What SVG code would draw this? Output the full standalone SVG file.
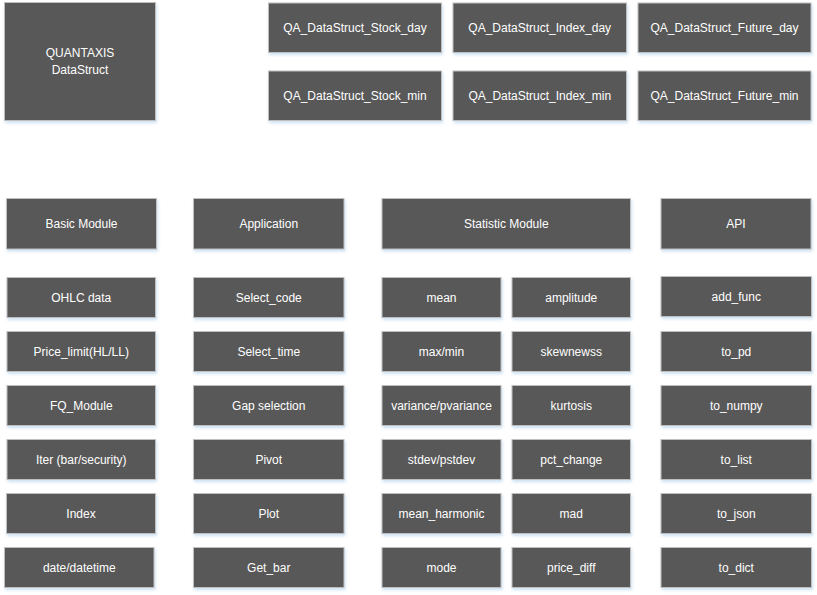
<svg xmlns="http://www.w3.org/2000/svg" width="817" height="595" viewBox="0 0 817 595">
<defs>
<filter id="sh" x="-10%" y="-20%" width="120%" height="150%">
<feDropShadow dx="1" dy="2" stdDeviation="1.5" flood-color="#9dc3e6" flood-opacity="0.5"/>
</filter>
</defs>
<style>
.n rect{fill:#595959;stroke:#bfbfbf;stroke-width:1;filter:url(#sh)}
.n text{fill:#ffffff;font-family:"Liberation Sans",Arial,sans-serif;font-size:12px;text-anchor:middle;dominant-baseline:central}
</style>
<rect width="817" height="595" fill="#ffffff"/>
<g id="connectors"></g>
<g id="quantaxis" class="n"><rect x="4.5" y="2.5" width="151" height="118"/><text x="80" y="53">QUANTAXIS</text><text x="80" y="70">DataStruct</text></g>
<g id="stock_day" class="n"><rect x="268.5" y="3" width="173" height="49.5"/><text x="355" y="28">QA_DataStruct_Stock_day</text></g>
<g id="index_day" class="n"><rect x="453" y="3" width="173.5" height="49.5"/><text x="539.75" y="28">QA_DataStruct_Index_day</text></g>
<g id="future_day" class="n"><rect x="638" y="3" width="173" height="49.5"/><text x="724.5" y="28">QA_DataStruct_Future_day</text></g>
<g id="stock_min" class="n"><rect x="268.5" y="71" width="173" height="49.5"/><text x="355" y="96">QA_DataStruct_Stock_min</text></g>
<g id="index_min" class="n"><rect x="453" y="71" width="173.5" height="49.5"/><text x="539.75" y="96">QA_DataStruct_Index_min</text></g>
<g id="future_min" class="n"><rect x="638" y="71" width="173" height="49.5"/><text x="724.5" y="96">QA_DataStruct_Future_min</text></g>

<g id="basic_module" class="n"><rect x="6.5" y="198.5" width="150" height="50.5"/><text x="81.5" y="224">Basic Module</text></g>
<g id="application" class="n"><rect x="193.5" y="198.5" width="150.5" height="50.5"/><text x="268.75" y="224">Application</text></g>
<g id="statistic_module" class="n"><rect x="382" y="198.5" width="248.5" height="50.5"/><text x="506.25" y="224">Statistic Module</text></g>
<g id="api" class="n"><rect x="661" y="198.5" width="150" height="50.5"/><text x="736" y="224">API</text></g>

<g id="ohlc" class="n"><rect x="7" y="277.5" width="148.5" height="40"/><text x="81.25" y="297.5">OHLC data</text></g>
<g id="price_limit" class="n"><rect x="7" y="331.5" width="148.5" height="40"/><text x="81.25" y="351.5">Price_limit(HL/LL)</text></g>
<g id="fq_module" class="n"><rect x="7" y="385.5" width="148.5" height="40"/><text x="81.25" y="405.5">FQ_Module</text></g>
<g id="iter" class="n"><rect x="7" y="439.5" width="148.5" height="40"/><text x="81.25" y="459.5">Iter (bar/security)</text></g>
<g id="index" class="n"><rect x="6.5" y="493.5" width="149" height="40"/><text x="81" y="513.5">Index</text></g>
<g id="datetime" class="n"><rect x="4.5" y="547.5" width="149.5" height="40"/><text x="79.25" y="567.5">date/datetime</text></g>

<g id="select_code" class="n"><rect x="193.5" y="277.5" width="150.5" height="40"/><text x="268.75" y="297.5">Select_code</text></g>
<g id="select_time" class="n"><rect x="193.5" y="331.5" width="150.5" height="40"/><text x="268.75" y="351.5">Select_time</text></g>
<g id="gap_selection" class="n"><rect x="193.5" y="385.5" width="150.5" height="40"/><text x="268.75" y="405.5">Gap selection</text></g>
<g id="pivot" class="n"><rect x="193.5" y="439.5" width="150.5" height="40"/><text x="268.75" y="459.5">Pivot</text></g>
<g id="plot" class="n"><rect x="193.5" y="493.5" width="150.5" height="40"/><text x="268.75" y="513.5">Plot</text></g>
<g id="get_bar" class="n"><rect x="193.5" y="547.5" width="150.5" height="40"/><text x="268.75" y="567.5">Get_bar</text></g>

<g id="mean" class="n"><rect x="382" y="277.5" width="119" height="40"/><text x="441.5" y="297.5">mean</text></g>
<g id="maxmin" class="n"><rect x="382" y="331.5" width="119" height="40"/><text x="441.5" y="351.5">max/min</text></g>
<g id="variance" class="n"><rect x="382" y="385.5" width="119" height="40"/><text x="441.5" y="405.5">variance/pvariance</text></g>
<g id="stdev" class="n"><rect x="382" y="439.5" width="119" height="40"/><text x="441.5" y="459.5">stdev/pstdev</text></g>
<g id="mean_harmonic" class="n"><rect x="382" y="493.5" width="119" height="40"/><text x="441.5" y="513.5">mean_harmonic</text></g>
<g id="mode" class="n"><rect x="382" y="547.5" width="119" height="40"/><text x="441.5" y="567.5">mode</text></g>

<g id="amplitude" class="n"><rect x="512" y="277.5" width="118.5" height="40"/><text x="571.25" y="297.5">amplitude</text></g>
<g id="skewness" class="n"><rect x="512" y="331.5" width="118.5" height="40"/><text x="571.25" y="351.5">skewnewss</text></g>
<g id="kurtosis" class="n"><rect x="512" y="385.5" width="118.5" height="40"/><text x="571.25" y="405.5">kurtosis</text></g>
<g id="pct_change" class="n"><rect x="512" y="439.5" width="118.5" height="40"/><text x="571.25" y="459.5">pct_change</text></g>
<g id="mad" class="n"><rect x="512" y="493.5" width="118.5" height="40"/><text x="571.25" y="513.5">mad</text></g>
<g id="price_diff" class="n"><rect x="512" y="547.5" width="118.5" height="40"/><text x="571.25" y="567.5">price_diff</text></g>

<g id="add_func" class="n"><rect x="661" y="276.5" width="150.5" height="40"/><text x="736.25" y="296.5">add_func</text></g>
<g id="to_pd" class="n"><rect x="661" y="331.5" width="150.5" height="40"/><text x="736.25" y="351.5">to_pd</text></g>
<g id="to_numpy" class="n"><rect x="661" y="385.5" width="150.5" height="40"/><text x="736.25" y="405.5">to_numpy</text></g>
<g id="to_list" class="n"><rect x="661" y="439.5" width="150.5" height="40"/><text x="736.25" y="459.5">to_list</text></g>
<g id="to_json" class="n"><rect x="661" y="493.5" width="150.5" height="40"/><text x="736.25" y="513.5">to_json</text></g>
<g id="to_dict" class="n"><rect x="661" y="547.5" width="150.5" height="40"/><text x="736.25" y="567.5">to_dict</text></g>
</svg>
